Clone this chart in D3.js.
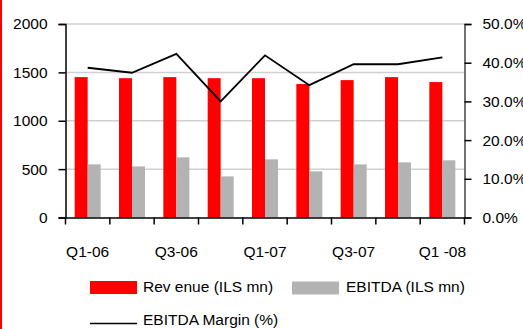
<!DOCTYPE html>
<html>
<head>
<meta charset="utf-8">
<script src="https://cdn.jsdelivr.net/npm/d3@7"></script>
<style>
  html, body { margin: 0; padding: 0; background: #fff; }
  svg { display: block; }
  text { font-family: "Liberation Sans", Arial, sans-serif; fill: #000; }
</style>
</head>
<body>
<svg id="chart" width="523" height="329"></svg>
<script>
// Quarterly figures
const quarters = ["Q1-06", "Q2-06", "Q3-06", "Q4-06", "Q1-07", "Q2-07", "Q3-07", "Q4-07", "Q1 -08"];
const quarterLabels = ["Q1-06", "", "Q3-06", "", "Q1-07", "", "Q3-07", "", "Q1 -08"];
const revenue = [1451, 1440, 1451, 1440, 1440, 1380, 1420, 1451, 1400];
const ebitda = [549, 528, 622, 425, 601, 477, 549, 570, 591];
const ebitdaMargin = [38.7, 37.4, 42.3, 30.0, 41.9, 34.2, 39.6, 39.6, 41.4];
const leftTicks = [0, 500, 1000, 1500, 2000];
const rightTicks = [0, 10, 20, 30, 40, 50];
const seriesNames = ["Rev enue (ILS mn)", "EBITDA (ILS mn)", "EBITDA Margin (%)"];

const FONT = 15.5;
const svg = d3.select("#chart");
const plot = { left: 65.5, right: 464.5, top: 24, bottom: 217.5 };

// Red frame edge on the left side
svg.append("rect").attr("x", 0).attr("y", 0).attr("width", 2).attr("height", 329).attr("fill", "#ff0000");

const x = d3.scaleBand().domain(quarters).range([plot.left, plot.right]).paddingInner(0).paddingOuter(0);
const yL = d3.scaleLinear().domain([0, 2000]).range([plot.bottom, plot.top]);
const yR = d3.scaleLinear().domain([0, 50]).range([plot.bottom, plot.top]);

// Horizontal gridlines
svg.append("g").selectAll("line").data(leftTicks.filter(d => d > 0)).join("line")
  .attr("x1", plot.left).attr("x2", plot.right)
  .attr("y1", d => yL(d)).attr("y2", d => yL(d))
  .attr("stroke", "#d0d0d0").attr("stroke-width", 1.5);

const barW = 13;
// Revenue bars
svg.append("g").selectAll("rect").data(revenue).join("rect")
  .attr("x", (d, i) => x(quarters[i]) + x.bandwidth() / 2 - barW)
  .attr("y", d => yL(d))
  .attr("width", barW)
  .attr("height", d => yL(0) - yL(d))
  .attr("fill", "#ff0000");

// EBITDA bars
svg.append("g").selectAll("rect").data(ebitda).join("rect")
  .attr("x", (d, i) => x(quarters[i]) + x.bandwidth() / 2)
  .attr("y", d => yL(d))
  .attr("width", barW)
  .attr("height", d => yL(0) - yL(d))
  .attr("fill", "#b3b3b3");

// EBITDA margin line
const line = d3.line()
  .x((d, i) => x(quarters[i]) + x.bandwidth() / 2)
  .y(d => yR(d));
svg.append("path").datum(ebitdaMargin)
  .attr("d", line)
  .attr("fill", "none").attr("stroke", "#000").attr("stroke-width", 1.8);

// Left axis
const axL = svg.append("g").attr("transform", `translate(${plot.left},0)`)
  .call(d3.axisLeft(yL).tickValues(leftTicks).tickSize(7).tickPadding(11).tickFormat(d3.format("d")));
// Right axis
const axR = svg.append("g").attr("transform", `translate(${plot.right},0)`)
  .call(d3.axisRight(yR).tickValues(rightTicks).tickSize(7).tickPadding(11).tickFormat(d => d.toFixed(1) + "%"));
// Category axis
const axB = svg.append("g").attr("transform", `translate(0,${plot.bottom})`)
  .call(d3.axisBottom(x).tickSize(0).tickFormat((d, i) => quarterLabels[i]));

[axL, axR, axB].forEach(g => {
  g.select(".domain").attr("stroke", "#000").attr("stroke-width", 1.5);
  g.selectAll(".tick line").attr("stroke", "#000").attr("stroke-width", 1.5);
  g.selectAll("text").attr("font-size", FONT).attr("font-family", "Liberation Sans, Arial, sans-serif").attr("fill", "#000");
});
axR.select(".domain").attr("stroke", "#444");
axB.selectAll(".tick text").attr("dy", 0).attr("y", 39);

// Category boundary ticks
const bounds = quarters.map(q => x(q)).concat([plot.right]);
svg.append("g").selectAll("line").data(bounds).join("line")
  .attr("x1", d => d).attr("x2", d => d)
  .attr("y1", plot.bottom).attr("y2", plot.bottom + 7)
  .attr("stroke", "#000").attr("stroke-width", 1.5);

// Legend
const legend = svg.append("g");
legend.append("rect").attr("x", 90).attr("y", 281).attr("width", 47).attr("height", 13).attr("fill", "#ff0000");
legend.append("text").attr("x", 143).attr("y", 292).attr("font-size", FONT).text(seriesNames[0]);
legend.append("rect").attr("x", 292).attr("y", 281.5).attr("width", 47).attr("height", 13).attr("fill", "#b3b3b3");
legend.append("text").attr("x", 346).attr("y", 292).attr("font-size", FONT).text(seriesNames[1]);
legend.append("line").attr("x1", 90).attr("x2", 137).attr("y1", 323.5).attr("y2", 323.5)
  .attr("stroke", "#000").attr("stroke-width", 1.5);
legend.append("text").attr("x", 143).attr("y", 325).attr("font-size", FONT).text(seriesNames[2]);
</script>
</body>
</html>
